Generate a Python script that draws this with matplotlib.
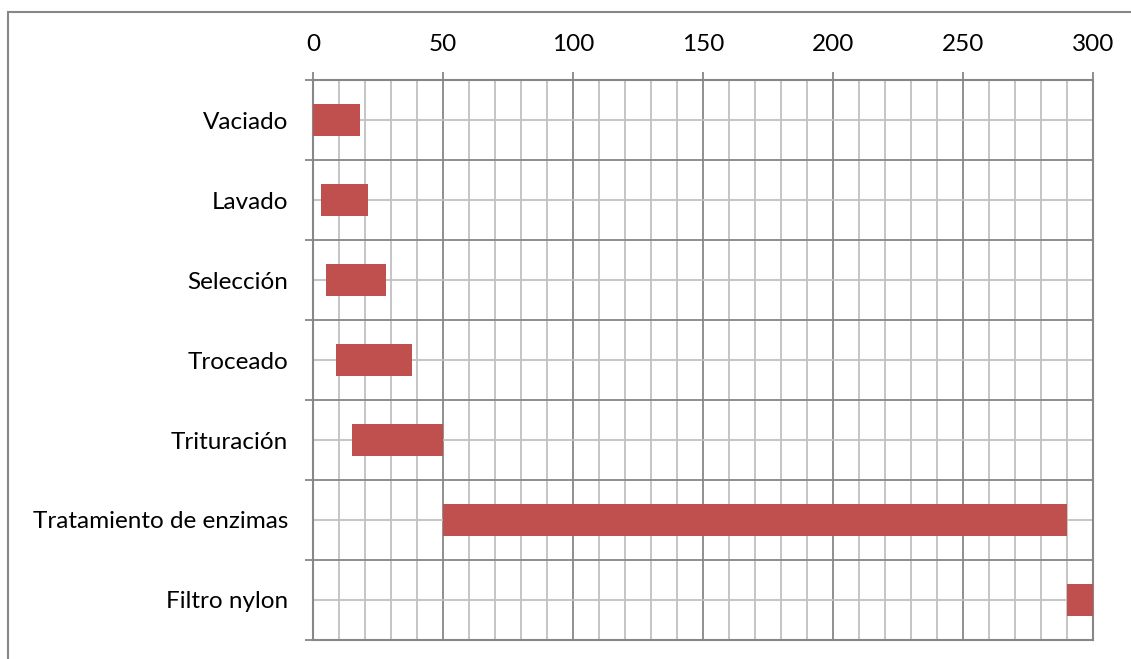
import numpy as np
import matplotlib as mpl
mpl.use('Agg')
import matplotlib.pyplot as plt
from matplotlib.patches import Rectangle

# etapas del proceso (minutos)
etapas = ['Vaciado', 'Lavado', 'Selección', 'Troceado', 'Trituración',
          'Tratamiento de enzimas', 'Filtro nylon']
inicio = [0, 3, 5, 9, 15, 50, 290]
duracion = [18, 18, 23, 29, 35, 240, 10]

plt.rcParams['font.family'] = ['Lato', 'DejaVu Sans']

dark = '#878787'
light = '#c0c0c0'

fig = plt.figure(figsize=(11.31, 6.59), dpi=100)
ax = fig.add_axes([313/1131, 1-640/659, 780/1131, 560/659])

y = np.arange(len(etapas))
ax.barh(y, duracion, left=inicio, height=0.4, color='#c0504d', zorder=3)

ax.set_xlim(0, 300)
ax.set_ylim(len(etapas)-0.5, -0.5)

ax.xaxis.tick_top()
ax.set_xticks(np.arange(0, 301, 50))
ax.set_xticks(np.arange(0, 301, 10), minor=True)
ax.set_yticks(np.arange(-0.5, len(etapas), 1.0))
ax.set_yticklabels([])
ax.set_yticks(y, minor=True)
ax.set_yticklabels(etapas, minor=True)

ax.tick_params(axis='x', which='major', length=6, width=1.3, color=dark,
               pad=12, labelsize=17.5, labelcolor='black')
ax.tick_params(axis='x', which='minor', length=0)
ax.tick_params(axis='y', which='major', length=6, width=1.3, color=dark)
ax.tick_params(axis='y', which='minor', length=0, pad=18, labelsize=17.5)

ax.grid(which='major', color=dark, linewidth=1.3, zorder=1)
ax.grid(which='minor', color=light, linewidth=1.3, zorder=0)
ax.set_axisbelow(True)

for s in ax.spines.values():
    s.set_color(dark)
    s.set_linewidth(1.5)

# marco exterior del grafico
fig.patches.append(Rectangle((8/1131, -0.1), 1.2, 1 - 12/659 + 0.1,
                             transform=fig.transFigure, fill=False,
                             edgecolor=dark, linewidth=1.5))

fig.savefig('out.png', dpi=100)
